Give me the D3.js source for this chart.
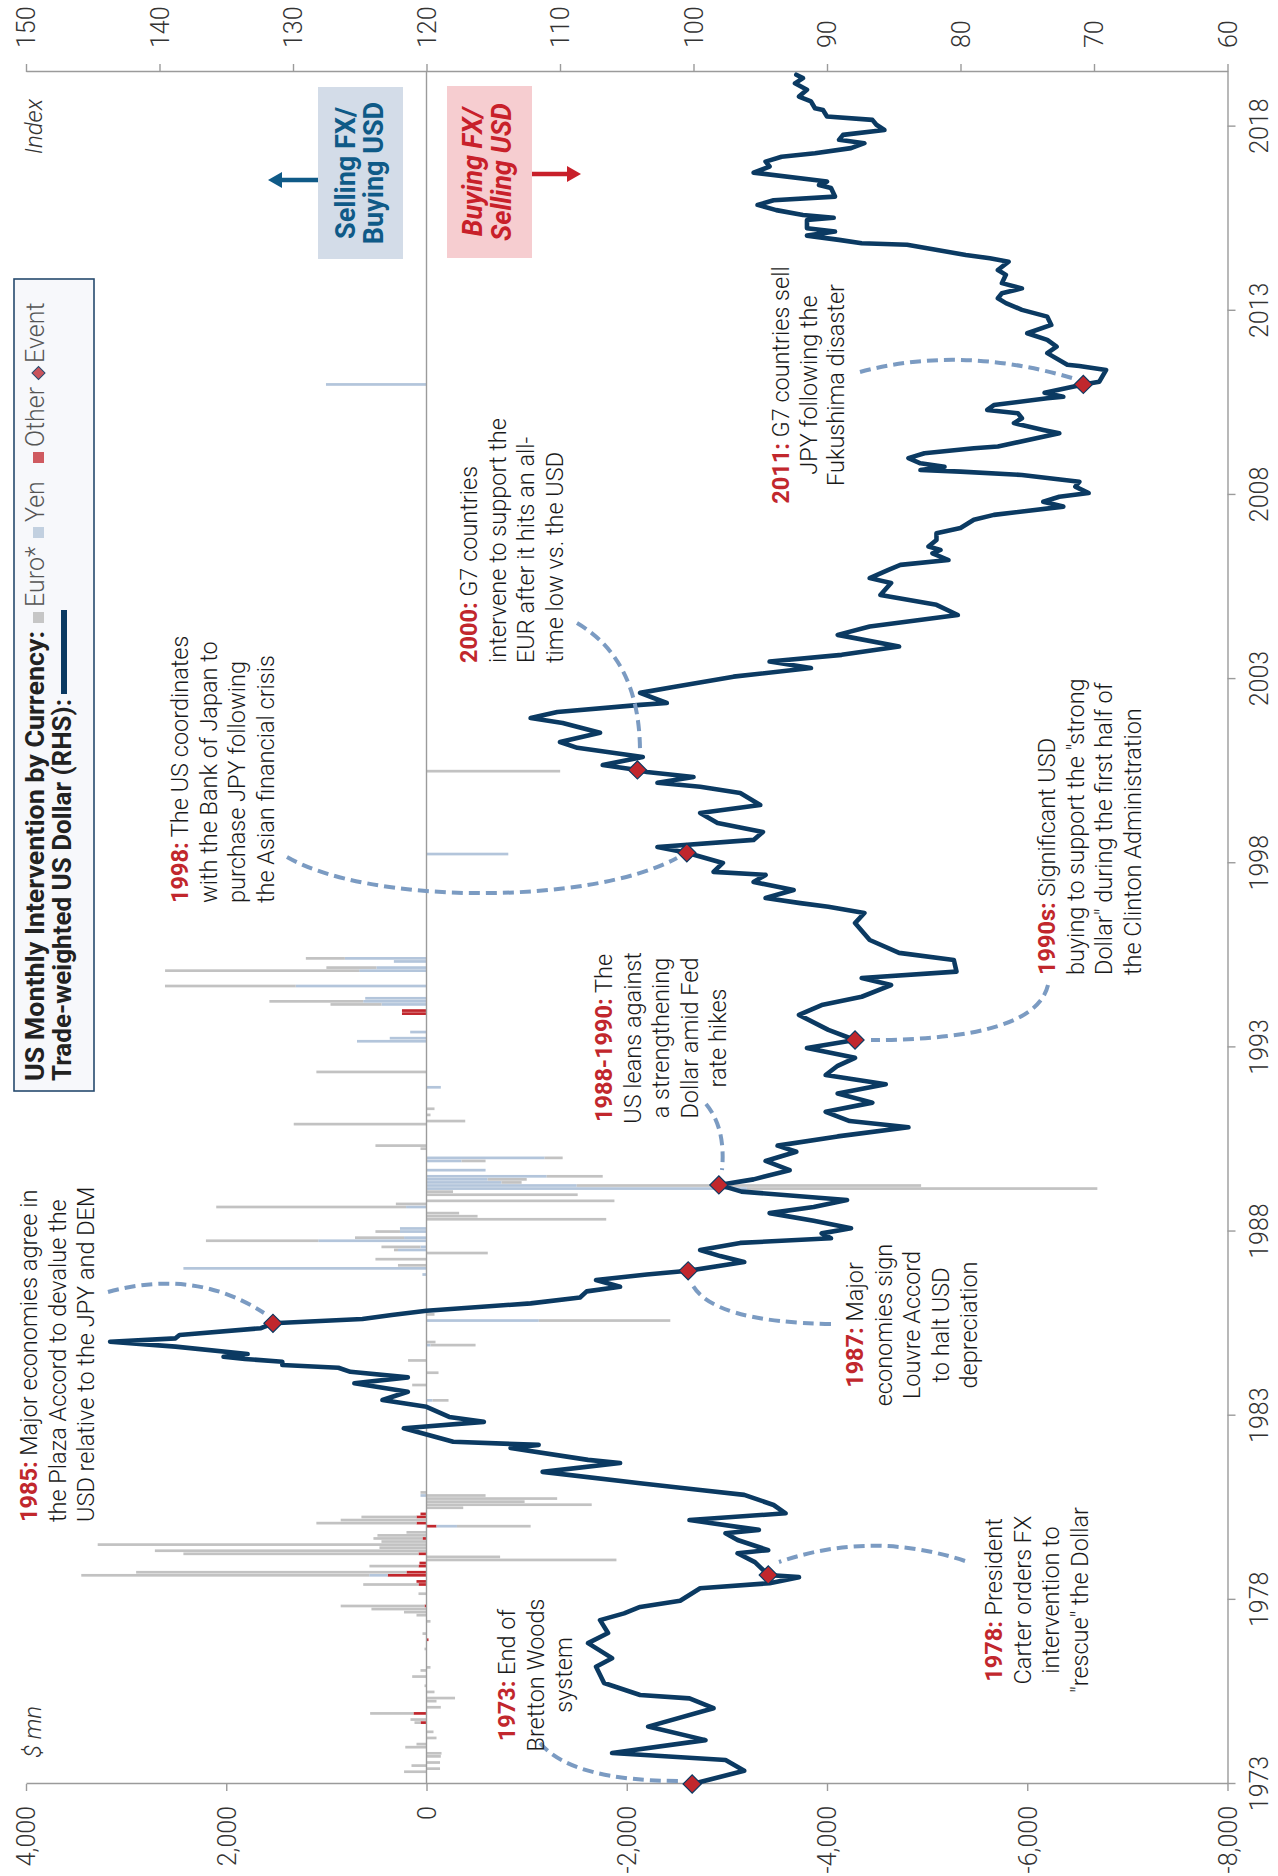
<!DOCTYPE html>
<html>
<head>
<meta charset="utf-8">
<script src="https://cdn.jsdelivr.net/npm/d3@7"></script>
<style>
  body { margin: 0; background: #fff; }
  svg { display: block; }
  text { font-family: Roboto, "Helvetica Neue", Arial, sans-serif; }
</style>
</head>
<body>
<svg id="chart" width="1278" height="1876"></svg>
<script>
// ---- data ----
// trade-weighted USD index (RHS); dates are decimal years
const lineDates = [
  1973.167,1973.525,1973.817,1974.008,1974.358,1974.725,1975.225,1975.492,1975.583,1975.908,
  1976.350,1976.583,1976.992,1977.267,1977.617,1977.800,1977.975,1978.142,1978.483,1978.617,
  1978.783,1978.842,1979.192,1979.433,1979.517,1979.792,1979.975,1980.067,1980.333,1980.517,
  1980.742,1981.017,1981.150,1981.333,1981.642,1981.883,1981.967,1982.292,1982.375,1982.458,
  1982.825,1983.000,1983.133,1983.408,1983.592,1983.817,1984.050,1984.208,1984.358,1984.467,
  1984.542,1984.633,1984.708,1984.767,1984.842,1985.042,1985.175,1985.267,1985.358,1985.542,
  1985.675,1985.792,1985.900,1986.017,1986.217,1986.375,1986.542,1986.667,1986.850,1987.000,
  1987.100,1987.342,1987.500,1987.667,1987.858,1987.983,1988.117,1988.258,1988.458,1988.667,
  1988.833,1989.025,1989.250,1989.433,1989.583,1989.833,1990.083,1990.333,1990.500,1990.750,
  1991.000,1991.167,1991.417,1991.667,1991.917,1992.167,1992.417,1992.667,1992.883,1993.150,
  1993.367,1993.642,1994.050,1994.317,1994.542,1994.858,1995.050,1995.225,1995.542,1995.733,
  1996.083,1996.542,1996.817,1996.983,1997.083,1997.225,1997.442,1997.658,1997.850,1997.933,
  1998.175,1998.450,1998.608,1998.800,1999.017,1999.258,1999.533,1999.750,2000.075,2000.242,
  2000.350,2000.508,2000.642,2000.700,2000.833,2001.050,2001.300,2001.458,2001.708,2001.975,
  2002.108,2002.275,2002.467,2002.517,2002.792,2002.950,2003.233,2003.467,2003.642,2003.825,
  2004.050,2004.367,2004.592,2004.908,2005.183,2005.450,2005.775,2005.908,2006.133,2006.267,
  2006.400,2006.583,2006.675,2006.767,2006.942,2007.125,2007.267,2007.492,2007.625,2007.850,
  2007.983,2008.117,2008.217,2008.392,2008.525,2008.708,2008.800,2008.842,2008.933,2009.025,
  2009.167,2009.300,2009.433,2009.483,2009.842,2009.933,2010.117,2010.250,2010.383,2010.475,
  2010.608,2010.792,2010.833,2010.942,2011.167,2011.242,2011.558,2011.667,2011.700,2012.017,
  2012.192,2012.375,2012.558,2012.783,2013.008,2013.192,2013.375,2013.508,2013.642,2013.775,
  2013.917,2014.142,2014.275,2014.500,2014.592,2014.683,2014.958,2015.000,2015.092,2015.208,
  2015.317,2015.408,2015.633,2015.692,2015.767,2015.900,2016.042,2016.167,2016.267,2016.500,
  2016.583,2016.675,2016.917,2017.083,2017.217,2017.350,2017.442,2017.583,2017.717,2017.808,
  2017.942,2018.075,2018.217,2018.350,2018.442,2018.617,2018.667,2018.850,2018.983,2019.167,
  2019.342,2019.483,2019.575
];
const lineValues = [
  100.1,96.2,97.6,106.1,99.1,103.4,98.5,100.3,104,106.7,
  107.3,106.1,107.9,106.4,107,105.2,104,101,99.5,94.3,
  92.1,94.4,95.4,96.7,94.4,96.7,97.6,95.1,100.3,93.1,
  94,96.2,99.5,104,111.3,105.5,107.9,113.7,111.6,118,
  121.7,115.7,118.3,120,123.3,121.4,125.4,121.4,125.7,126.6,
  130.8,130.8,133.6,135.2,133.4,138.8,143.7,138.8,138.5,132.4,
  131.5,124.8,122.6,120,112.2,108.5,108,105.5,107.3,103.5,
  100.4,96.2,98,99.5,96.5,89.7,90.4,88.2,91,94.3,
  91,88.5,96.4,98.1,95.5,92.8,94.6,92.3,93.7,89.2,
  83.9,88.3,90.1,86.6,89.2,85.6,90.1,89.2,87.9,91.5,
  87.9,89.9,92.1,90.4,87.4,85.2,87.4,80.3,80.5,84.6,
  86.8,87.9,87.2,89.9,92,94.6,92.5,95.5,94.6,98.5,
  97.8,100.5,102.7,95.5,94.8,98.2,99.5,95,96.5,99.5,
  102.7,100,103.5,104.2,106.8,103.8,108.7,110,107,109.8,
  112.2,110.2,104,102,104,101.5,97,91.2,94.3,88.9,
  84.6,89.2,86.8,80.2,81.8,86,85.2,86.8,85.4,84.5,
  80.9,82.1,81.5,82.4,81.8,81.8,80,79,77.5,72.3,
  73.8,72.6,70.4,71.4,71.1,75.4,80,83,81.2,83,
  83.9,82.7,79,77.2,72.6,73.8,76,75.4,75.7,78,
  77.5,73.5,72.3,73.7,70.8,69.6,69.1,71.1,72,73.5,
  72.8,73.5,75,73.2,73.5,75.4,76.6,77.2,76.9,75.4,
  76.9,76.6,77.2,76.4,77.8,79.6,84,87.4,89.1,91.5,
  89.4,91.5,91.5,89.5,91.8,93.8,95.2,94,89.4,89.7,
  90.6,90,95.5,94.3,94.6,93.4,90.9,88.2,87.2,89.1,
  88.8,85.7,86.3,86.6,90,90.3,90.9,91.2,92.1,91.5,
  92.4,91.8,92.3
];

// monthly intervention, $ mn (only months with activity)
const barMonths = [
  '1973-07','1973-08','1973-09','1973-10','1973-12','1974-01','1974-03','1974-04','1974-06','1974-08',
  '1974-11','1974-12','1975-02','1975-04','1975-06','1975-07','1975-09','1975-11','1976-02','1976-04',
  '1976-05','1976-11','1977-02','1977-04','1977-08','1977-10','1977-11','1977-12','1978-01','1978-05',
  '1978-08','1978-09','1978-11','1978-12','1979-02','1979-03','1979-04','1979-05','1979-06','1979-07',
  '1979-08','1979-09','1979-10','1979-11','1979-12','1980-01','1980-03','1980-04','1980-05','1980-06',
  '1980-07','1980-09','1980-10','1980-11','1980-12','1981-01','1981-02','1983-08','1984-01','1984-05',
  '1984-09','1985-02','1985-03','1985-10','1985-12','1987-01','1987-03','1987-04','1987-06','1987-08',
  '1987-09','1987-10','1987-12','1988-01','1988-03','1988-04','1988-07','1988-08','1988-09','1988-11',
  '1988-12','1989-01','1989-03','1989-04','1989-05','1989-06','1989-07','1989-08','1989-09','1989-11',
  '1990-02','1990-03','1990-06','1990-07','1991-02','1991-03','1991-05','1991-07','1992-02','1992-07',
  '1993-05','1993-06','1993-08','1994-02','1994-03','1994-05','1994-06','1994-07','1994-11','1995-04',
  '1995-05','1995-07','1995-08','1998-06','2000-09','2011-03'
];
const euroBars = [
  224,-135,150,-135,-143,-150,212,100,-100,-70,
  60,160,433,-143,-100,-285,-80,20,143,60,
  -40,20,0,40,-40,100,225,550,837,80,
  552,0,2876,2700,490,0,-1897,-735,2348,2713,
  470,3284,450,490,490,200,-736,1000,857,550,
  0,-367,-1650,-980,-1305,-590,60,-160,143,-120,
  184,-450,-90,-1313,-80,0,0,285,510,-612,
  40,390,1122,490,245,0,-1795,-510,-326,1896,
  306,-1877,-1510,-265,-3500,-3440,-200,-390,-560,0,
  -240,-180,60,510,1326,-387,-40,-80,0,1100,
  0,0,0,0,0,510,937,0,1306,1938,
  500,0,390,0,-1335,0
];
const yenBars = [
  0,0,0,0,0,0,0,0,0,0,
  0,0,0,0,0,0,0,0,0,0,
  0,0,0,0,0,0,0,0,0,0,
  0,0,184,0,0,0,0,0,0,0,
  0,0,0,0,0,0,-204,0,0,0,
  0,0,0,0,0,60,0,-60,0,0,
  0,-40,0,-1122,0,41,2428,0,0,0,
  285,60,1081,224,265,265,0,0,0,204,
  0,0,0,0,-3200,-1500,-750,-611,-1200,-590,
  -350,-1180,0,0,0,0,0,0,-143,0,
  694,367,163,0,0,449,632,612,1306,673,
  500,326,815,-817,0,1004
];
const otherBars = [
  0,0,0,0,0,0,0,0,0,0,
  60,0,130,0,0,0,0,0,0,0,
  0,0,-20,0,0,0,0,0,20,0,
  80,100,388,200,80,70,0,0,80,0,
  0,0,0,40,0,0,-100,100,0,100,
  60,0,0,0,0,0,0,0,0,0,
  0,0,0,0,0,0,0,0,0,0,
  0,0,0,0,0,0,0,0,0,0,
  0,0,0,0,0,0,0,0,0,0,
  0,0,0,0,0,0,0,0,0,0,
  0,0,0,245,245,0,0,0,0,0,
  0,0,0,0,0,0
];

// events marked with a diamond on the index line
const eventDates = [1973.167, 1978.842, 1985.675, 1987.100, 1989.433, 1993.367, 1998.450, 2000.700, 2011.167];

const usdTicks = [4000, 2000, 0, -2000, -4000, -6000, -8000];
const indexTicks = [150, 140, 130, 120, 110, 100, 90, 80, 70, 60];
const yearTicks = [1973, 1978, 1983, 1988, 1993, 1998, 2003, 2008, 2013, 2018];

// ---- layout ----
// chart is drawn upright in an inner frame, then turned a quarter turn
const W = 1876;
const RED = '#c1272d', NAVY = '#0b3a62', AXIS = '#9b9b9b';
const FONT = 'Roboto, "Helvetica Neue", Arial, sans-serif';
const BODY = 23.5;

const svg = d3.select('#chart');
svg.append('rect').attr('width', 1278).attr('height', 1876).attr('fill', '#fff');
const g = svg.append('g').attr('transform', `translate(0,${W}) rotate(-90)`);

// axis starts March 1973, ticks every 60 months
const x = d3.scaleLinear().domain([1973 + 2 / 12, 2019.65]).range([92, 1804]);
const yIdx = d3.scaleLinear().domain([150, 60]).range([26, 1227.5]);
const yUsd = d3.scaleLinear().domain([4000, -8000]).range([26, 1227.5]);

const barsLayer = g.append('g');
const axesLayer = g.append('g');
const lineLayer = g.append('g');
const leadLayer = g.append('g');
const dotLayer = g.append('g');
const textLayer = g.append('g');

// bars (stacked outward from zero: other, yen, euro)
const rows = barMonths.map((s, i) => {
  const [yy, mm] = s.split('-').map(Number);
  return { t: yy + (mm - 1) / 12, euro: euroBars[i], yen: yenBars[i], other: otherBars[i] };
});
const barColors = { other: RED, yen: '#b3c5db', euro: '#c2c2c2' };
const series = d3.stack().keys(['other', 'yen', 'euro']).offset(d3.stackOffsetDiverging)(rows);
series.forEach(s => {
  barsLayer.selectAll(null)
    .data(s.filter(d => d[0] !== d[1]))
    .join('rect')
    .attr('x', d => x(d.data.t) - 1.35)
    .attr('width', 2.7)
    .attr('y', d => yUsd(Math.max(d[0], d[1])))
    .attr('height', d => Math.abs(yUsd(d[0]) - yUsd(d[1])))
    .attr('fill', barColors[s.key]);
});

// zero line
axesLayer.append('line')
  .attr('x1', x.range()[0]).attr('x2', x.range()[1])
  .attr('y1', yUsd(0)).attr('y2', yUsd(0))
  .attr('stroke', AXIS).attr('stroke-width', 1.4);

function styleAxis(sel) {
  sel.select('.domain').attr('stroke', AXIS).attr('stroke-width', 1.4);
  sel.selectAll('.tick line').attr('stroke', AXIS).attr('stroke-width', 1.4);
  sel.selectAll('.tick text')
    .attr('fill', '#333').attr('font-family', FONT)
    .style('font-size', '25px').style('font-weight', 300);
}

const yearAxis = axesLayer.append('g')
  .attr('transform', `translate(0,${yIdx.range()[1]})`)
  .call(d3.axisBottom(x).tickValues(yearTicks.map(y => y + 2 / 12))
    .tickFormat(d => Math.round(d - 2 / 12)).tickSize(8).tickSizeOuter(0));
styleAxis(yearAxis);
yearAxis.selectAll('.tick text').attr('y', 40).attr('dy', 0);

const idxAxis = axesLayer.append('g')
  .attr('transform', `translate(${x.range()[1]},0)`)
  .call(d3.axisRight(yIdx).tickValues(indexTicks).tickSize(8).tickSizeOuter(0));
styleAxis(idxAxis);
idxAxis.selectAll('.tick text').attr('x', 24).attr('dy', '0.35em');

const usdAxis = axesLayer.append('g')
  .attr('transform', `translate(${x.range()[0]},0)`)
  .call(d3.axisLeft(yUsd).tickValues(usdTicks)
    .tickFormat(d => d3.format(',')(d).replace('\u2212', '-')).tickSize(7).tickSizeOuter(0));
styleAxis(usdAxis);
usdAxis.selectAll('.tick text').attr('x', -22).attr('dy', '0.35em');

// axis unit labels
textLayer.append('text').attr('x', 1777).attr('y', 42).attr('text-anchor', 'end')
  .attr('font-style', 'italic').attr('font-weight', 300).attr('font-size', 24).attr('fill', '#333')
  .text('Index');
textLayer.append('text').attr('x', 118).attr('y', 41)
  .attr('font-style', 'italic').attr('font-weight', 300).attr('font-size', 24).attr('fill', '#333')
  .text('$ mn');

// index line
const pts = lineDates.map((t, i) => ({ t, v: lineValues[i] }));
lineLayer.append('path')
  .datum(pts)
  .attr('d', d3.line().x(d => x(d.t)).y(d => yIdx(d.v)))
  .attr('fill', 'none').attr('stroke', NAVY).attr('stroke-width', 4.6)
  .attr('stroke-linejoin', 'round').attr('stroke-linecap', 'round');

// event diamonds sit on the line
const events = eventDates.map(t => pts.find(p => p.t === t));
dotLayer.selectAll('path').data(events).join('path')
  .attr('d', d3.symbol(d3.symbolSquare, 165))
  .attr('transform', d => `translate(${x(d.t)},${yIdx(d.v)}) rotate(45)`)
  .attr('fill', RED).attr('stroke', NAVY).attr('stroke-width', 1.2);

// dashed leaders, points given in page coordinates
const toInner = ([sx, sy]) => [W - sy, sx];
const leaders = [
  [[540, 1743], [572, 1781], [680, 1781]],
  [[965, 1561], [872, 1530], [779, 1562]],
  [[108, 1292], [195, 1268], [264, 1313]],
  [[831, 1324], [712, 1322], [692, 1284]],
  [[706, 1104], [726, 1128], [722, 1170]],
  [[1048, 985], [1035, 1040], [871, 1040]],
  [[287, 857], [370, 905], [590, 905], [677, 858]],
  [[577, 623], [640, 660], [640, 752]],
  [[860, 372], [960, 345], [1072, 378]]
];
leadLayer.selectAll('path').data(leaders).join('path')
  .attr('d', p => {
    const q = p.map(toInner);
    const cmd = q.length === 4 ? 'C' : 'Q';
    return `M${q[0]}${cmd}${q.slice(1).join(' ')}`;
  })
  .attr('fill', 'none').attr('stroke', '#7b9bc2').attr('stroke-width', 4)
  .attr('stroke-dasharray', '11 6');

// annotations
const notes = [
  { year: '1985:', lines: ['Major economies agree in', 'the Plaza Accord to devalue the', 'USD relative to the JPY and DEM'], x: 354, y: 37, anchor: 'start' },
  { year: '1973:', lines: ['End of', 'Bretton Woods', 'system'], x: 201, y: 515, anchor: 'middle' },
  { year: '1978:', lines: ['President', 'Carter orders FX', 'intervention to', '"rescue" the Dollar'], x: 276, y: 1002, anchor: 'middle' },
  { year: '1987:', lines: ['Major', 'economies sign', 'Louvre Accord', 'to halt USD', 'depreciation'], x: 551, y: 863, anchor: 'middle' },
  { year: '1988-1990:', lines: ['The', 'US leans against', 'a strengthening', 'Dollar amid Fed', 'rate hikes'], x: 838, y: 612, anchor: 'middle' },
  { year: '1990s:', lines: ['Significant USD', 'buying to support the "strong', 'Dollar" during the first half of', 'the Clinton Administration'], x: 901, y: 1055, anchor: 'start' },
  { year: '1998:', lines: ['The US coordinates', 'with the Bank of Japan to', 'purchase JPY following', 'the Asian financial crisis'], x: 973, y: 188, anchor: 'start' },
  { year: '2000:', lines: ['G7 countries', 'intervene to support the', 'EUR after it hits an all-', 'time low vs. the USD'], x: 1213, y: 477, anchor: 'start' },
  { year: '2011:', lines: ['G7 countries sell', 'JPY following the', 'Fukushima disaster'], x: 1491, y: 789, anchor: 'middle', lh: 27.5 }
];
notes.forEach(n => {
  const lh = n.lh || 28.6;
  n.lines.forEach((ln, i) => {
    const t = textLayer.append('text')
      .attr('x', n.x).attr('y', n.y + i * lh).attr('text-anchor', n.anchor)
      .attr('font-size', BODY).attr('font-weight', 300).attr('fill', '#1a1a1a');
    if (i === 0) {
      t.append('tspan').attr('font-weight', 700).attr('fill', RED).text(n.year);
      t.append('tspan').text(' ' + ln);
    } else {
      t.text(ln);
    }
  });
});

// direction boxes
function dirBox(x0, y0, fill, color, italic, lines, base, arrow) {
  textLayer.append('rect').attr('x', x0).attr('y', y0).attr('width', 172).attr('height', 85).attr('fill', fill);
  lines.forEach((ln, i) => {
    textLayer.append('text').attr('x', x0 + 86).attr('y', base[i]).attr('text-anchor', 'middle')
      .attr('font-size', 27).attr('font-weight', 700).attr('font-style', italic ? 'italic' : 'normal')
      .attr('fill', color).text(ln);
  });
  const [ax, a0, a1] = arrow;
  const dir = Math.sign(a1 - a0);
  textLayer.append('line').attr('x1', ax).attr('x2', ax).attr('y1', a0).attr('y2', a1 - dir * 12)
    .attr('stroke', color).attr('stroke-width', 4.5);
  textLayer.append('path')
    .attr('d', `M${ax - 8},${a1 - dir * 14}L${ax + 8},${a1 - dir * 14}L${ax},${a1}Z`)
    .attr('fill', color);
}
dirBox(1617, 318, '#d3dce8', '#0f5a87', false, ['Selling FX/', 'Buying USD'], [355, 383], [1696, 318, 268]);
dirBox(1618, 447, '#f6cdd0', '#c8202a', true, ['Buying FX/', 'Selling USD'], [482, 511], [1702, 532, 581]);

// legend
const leg = textLayer.append('g');
leg.append('rect').attr('x', 785).attr('y', 14).attr('width', 812).attr('height', 80)
  .attr('fill', '#f7f8fb').attr('stroke', '#264a6e').attr('stroke-width', 1.6);
leg.append('text').attr('x', 795).attr('y', 44)
  .attr('font-size', 25).attr('font-weight', 700).attr('fill', '#222')
  .attr('textLength', 450).attr('lengthAdjust', 'spacingAndGlyphs')
  .text('US Monthly Intervention by Currency:');
const legItems = [
  { label: 'Euro*', color: '#c6c6c6', kind: 'sq', at: 1253 },
  { label: 'Yen', color: '#c2d0e0', kind: 'sq', at: 1338 },
  { label: 'Other', color: '#cf5a60', kind: 'sq', at: 1413 },
  { label: 'Event', color: '#c9545c', kind: 'dia', at: 1497 }
];
legItems.forEach(it => {
  if (it.kind === 'sq') {
    leg.append('rect').attr('x', it.at).attr('y', 33).attr('width', 11).attr('height', 11).attr('fill', it.color);
  } else {
    leg.append('path').attr('d', d3.symbol(d3.symbolSquare, 85))
      .attr('transform', `translate(${it.at + 6},38.5) rotate(45)`)
      .attr('fill', it.color).attr('stroke', '#264a6e').attr('stroke-width', 1);
  }
  leg.append('text').attr('x', it.at + 16).attr('y', 44)
    .attr('font-size', 25).attr('font-weight', 300).attr('fill', '#555').text(it.label);
});
leg.append('text').attr('x', 795).attr('y', 71)
  .attr('font-size', 25).attr('font-weight', 700).attr('fill', '#222')
  .attr('textLength', 382).attr('lengthAdjust', 'spacingAndGlyphs')
  .text('Trade-weighted US Dollar (RHS):');
leg.append('line').attr('x1', 1182).attr('x2', 1266).attr('y1', 64).attr('y2', 64)
  .attr('stroke', NAVY).attr('stroke-width', 6);
</script>
</body>
</html>
